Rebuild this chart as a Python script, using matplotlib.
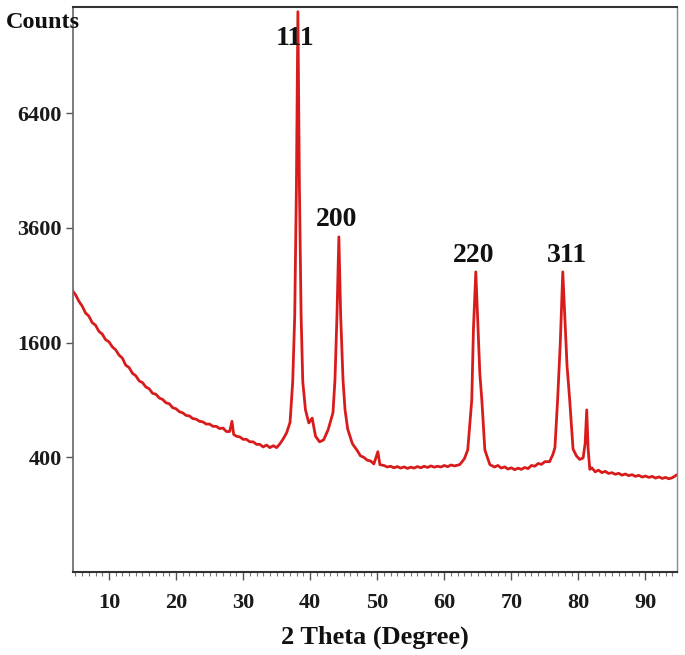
import numpy as np
import matplotlib.pyplot as plt
from matplotlib.ticker import MultipleLocator

# XRD pattern (2 theta in degrees, counts)
two_theta = [4.64, 5.0, 5.5, 6.0, 6.5, 7.0, 7.5, 8.0, 8.5, 9.0, 9.5, 10.0, 10.5, 11.0, 11.5,
             12.0, 12.5, 13.0, 13.5, 14.0, 14.5, 15.0, 15.5, 16.0, 16.5, 17.0, 17.5, 18.0,
             18.5, 19.0, 19.5, 20.0, 20.5, 21.0, 21.5, 22.0, 22.5, 23.0, 23.5, 24.0, 24.5,
             25.0, 25.5, 26.0, 26.5, 27.0, 27.5, 28.0, 28.34, 28.6, 29.0, 29.5, 30.0, 30.5,
             31.0, 31.5, 32.0, 32.5, 33.0, 33.5, 34.0, 34.5, 35.0, 35.5, 36.0, 36.5, 37.0,
             37.4, 37.7, 37.95, 38.17, 38.4, 38.65, 38.9, 39.3, 39.8, 40.3, 40.8, 41.4, 42.0,
             42.67, 43.4, 43.7, 44.0, 44.28, 44.55, 44.9, 45.2, 45.6, 46.3, 47.0, 47.5, 48.0,
             48.5, 49.0, 49.5, 50.1, 50.4, 51.0, 51.5, 52.0, 52.5, 53.0, 53.5, 54.0, 54.5,
             55.0, 55.5, 56.0, 56.5, 57.0, 57.5, 58.0, 58.5, 59.0, 59.5, 60.0, 60.5, 61.0,
             61.5, 62.3, 63.0, 63.5, 64.1, 64.35, 64.7, 65.0, 65.3, 65.6, 66.05, 66.8, 67.5,
             68.0, 68.5, 69.0, 69.5, 70.0, 70.5, 71.0, 71.5, 72.0, 72.5, 73.0, 73.5, 74.0,
             74.5, 75.0, 75.7, 76.2, 76.5, 76.9, 77.3, 77.67, 78.0, 78.3, 78.7, 79.2, 79.7,
             80.2, 80.7, 81.0, 81.24, 81.45, 81.7, 82.0, 82.5, 83.0, 83.5, 84.0, 84.5, 85.0,
             85.5, 86.0, 86.5, 87.0, 87.5, 88.0, 88.5, 89.0, 89.5, 90.0, 90.5, 91.0, 91.5,
             92.0, 92.5, 93.0, 93.5, 94.0, 94.6]
counts = [2390, 2340, 2230, 2150, 2040, 1990, 1890, 1850, 1760, 1720, 1640, 1610, 1540, 1500, 1430,
          1390, 1300, 1270, 1200, 1170, 1110, 1090, 1040, 1020, 970, 960, 920, 905,
          870, 860, 820, 810, 780, 770, 745, 740, 715, 710, 690, 685, 665,
          665, 645, 645, 625, 630, 600, 600, 690, 575, 560, 555, 535, 535,
          515, 515, 495, 495, 475, 490, 470, 485, 470, 500, 540, 590, 680,
          1100, 2000, 4500, 9540, 4500, 2000, 1100, 800, 675, 720, 560, 515, 530,
          613, 770, 1121, 2000, 3413, 2000, 1121, 800, 620, 500, 450, 410, 400,
          380, 375, 355, 440, 350, 345, 335, 340, 330, 338, 328, 336, 326,
          334, 328, 338, 330, 340, 332, 342, 334, 340, 335, 345, 337, 348,
          342, 350, 390, 453, 900, 1800, 2737, 1900, 1200, 900, 453, 350, 335,
          345, 328, 336, 322, 330, 318, 328, 320, 332, 325, 345, 340, 358,
          352, 370, 370, 420, 470, 900, 1600, 2737, 1900, 1300, 900, 460, 410,
          385, 395, 500, 798, 460, 320, 330, 305, 315, 300, 308, 295, 300,
          290, 296, 285, 292, 282, 288, 278, 284, 274, 280, 272, 278, 268,
          275, 266, 272, 264, 270, 285]

peak_names = ['111', '200', '220', '311']
peak_x = [37.7, 44.0, 64.4, 78.3]
peak_y = [8650, 3770, 3040, 3040]

y_ticks = [400, 1600, 3600, 6400]

FS = 16
serif = 'Liberation Serif'

fig = plt.figure(figsize=(6.85, 6.55), dpi=100)
ax = fig.add_axes([0.1066, 0.1267, 0.8817, 0.8626])

ax.plot(two_theta, counts, color='#d81c1c', linewidth=2.0)

ax.set_yscale('function', functions=(lambda v: np.sqrt(np.maximum(v, 0)), lambda v: v**2))
ax.set_ylim(0, 9700)
ax.set_xlim(4.64, 94.7)

ax.set_yticks(y_ticks)
ax.set_yticklabels([str(t) for t in y_ticks])
ax.yaxis.set_minor_locator(plt.NullLocator())
ax.xaxis.set_major_locator(MultipleLocator(10))
ax.xaxis.set_minor_locator(MultipleLocator(1))

ax.tick_params(axis='both', which='major', direction='out', length=5, width=1,
               color='#555555', labelsize=FS, labelcolor='#1a1a1a', pad=3)
ax.tick_params(axis='x', which='major', length=6, pad=9)
ax.tick_params(axis='x', which='minor', direction='out', length=3, width=0.8, color='#777777')
for lab in ax.get_xticklabels() + ax.get_yticklabels():
    lab.set_fontfamily(serif)
    lab.set_fontweight('bold')

ax.spines['left'].set_color('#666666')
ax.spines['left'].set_linewidth(1.2)
ax.spines['right'].set_color('#888888')
ax.spines['right'].set_linewidth(1.0)
ax.spines['top'].set_color('#333333')
ax.spines['top'].set_linewidth(1.5)
ax.spines['bottom'].set_color('#333333')
ax.spines['bottom'].set_linewidth(1.5)

for name, px, py in zip(peak_names, peak_x, peak_y):
    ax.text(px, py, name, ha='center', va='center', fontsize=20,
            fontfamily=serif, fontweight='bold', color='#111111')

fig.text(0.008, 0.966, 'Counts', ha='left', va='center', fontsize=17.5,
         fontfamily=serif, fontweight='bold', color='#111111')
ax.set_xlabel('2 Theta (Degree)', fontsize=19, fontfamily=serif, fontweight='bold',
              color='#111111', labelpad=9)

fig.savefig('out.png', dpi=100)
